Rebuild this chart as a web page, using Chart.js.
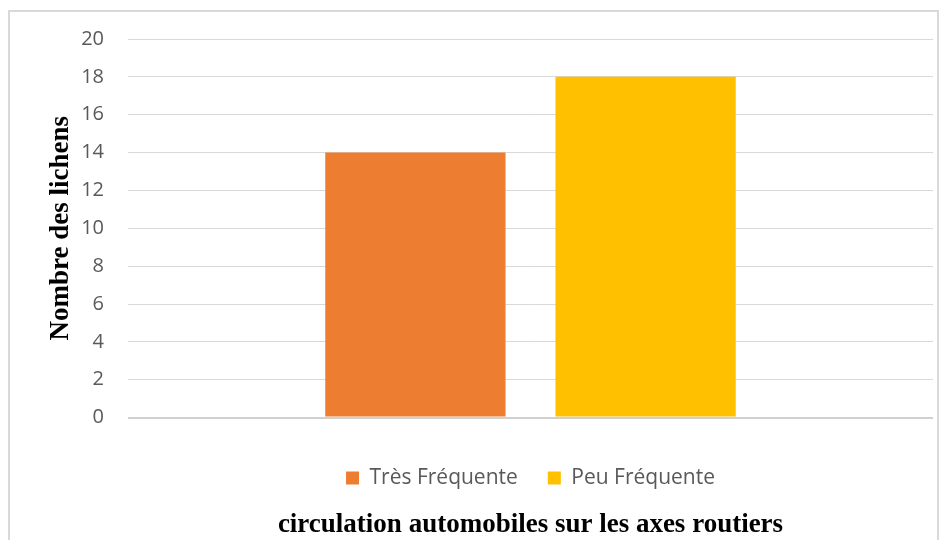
<!DOCTYPE html>
<html>
<head>
<meta charset="utf-8">
<script src="https://cdn.jsdelivr.net/npm/chart.js@4"></script>
<style>
  html, body { margin: 0; padding: 0; background: #fff; overflow: hidden; }
  #cadre {
    position: absolute; left: 8px; top: 10px;
    width: 931px; height: 540px;
    border: 2px solid #d9d9d9; border-bottom: none;
    box-sizing: border-box;
  }
  #wrap { position: absolute; left: 0; top: 0; width: 929px; height: 530px; }
</style>
</head>
<body>
<div id="cadre"><div id="wrap"><canvas id="graph"></canvas></div></div>
<script>
// Nombre des lichens selon la circulation automobile
const categories = [''];
const series = ['Très Fréquente', 'Peu Fréquente'];
const valeurs = [[14], [18]];
const couleurs = ['#ed7d31', '#ffc000'];
const ticksY = [0, 2, 4, 6, 8, 10, 12, 14, 16, 18, 20];

const police = '"Open Sans", "Noto Sans", sans-serif';

new Chart(document.getElementById('graph'), {
  type: 'bar',
  data: {
    labels: categories,
    datasets: series.map((nom, i) => ({
      label: nom,
      data: valeurs[i],
      backgroundColor: couleurs[i],
      borderWidth: 0,
      categoryPercentage: 0.572,
      barPercentage: 0.783
    }))
  },
  options: {
    responsive: true,
    maintainAspectRatio: false,
    animation: false,
    layout: { padding: { top: 2, right: 6, left: 35, bottom: 1 } },
    plugins: {
      legend: {
        position: 'bottom',
        fullSize: false,   // centrée sous la zone de tracé
        labels: {
          boxWidth: 13, boxHeight: 13, padding: 30,
          color: '#595959',
          font: { family: police, size: 21 }
        }
      },
      title: {
        display: true,
        position: 'bottom',
        fullSize: false,
        text: 'circulation automobiles sur les axes routiers',
        color: '#000',
        padding: { top: 10, bottom: 0 },
        font: { family: '"Liberation Serif", serif', size: 27, weight: 'bold' }
      },
      tooltip: { enabled: false }
    },
    scales: {
      x: {
        grid: { display: false },
        border: { display: false },
        ticks: { display: false },
        afterFit: axe => { axe.height = 20; }
      },
      y: {
        min: 0, max: 20,
        afterBuildTicks: axe => { axe.ticks = ticksY.map(v => ({ value: v })); },
        // largeur fixe et marge haute réduite (le padding des ticks gonfle sinon le haut)
        afterFit: axe => { axe.width = 83; axe.paddingTop = 27; axe.paddingBottom = 0; },
        grid: {
          color: ctx => ctx.tick && ctx.tick.value === 0 ? '#d0d0d0' : '#d9d9d9',
          lineWidth: ctx => ctx.tick && ctx.tick.value === 0 ? 2 : 1,
          drawTicks: false
        },
        border: { display: false },
        ticks: {
          padding: 24,
          color: '#595959',
          font: { family: police, size: 20 }
        },
        title: {
          display: true,
          text: 'Nombre des lichens',
          color: '#000',
          padding: { top: 0, bottom: 5 },
          font: { family: '"Liberation Serif", serif', size: 27, weight: 'bold' }
        }
      }
    }
  }
});
</script>
</body>
</html>
